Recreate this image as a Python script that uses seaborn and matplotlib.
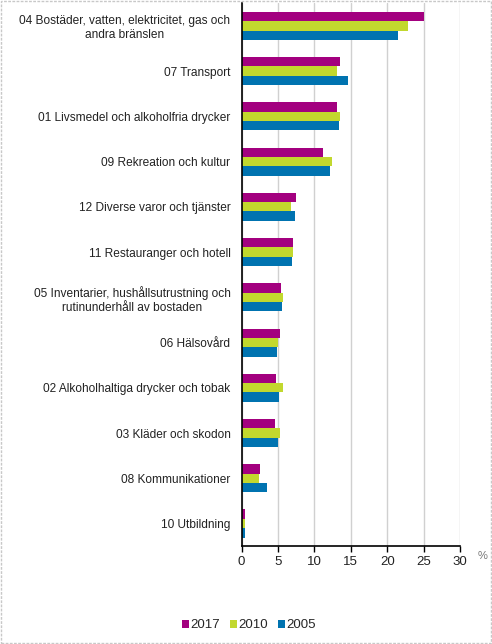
"""
Household consumption shares by expenditure group, 2005, 2010 and 2017.
"""

import pandas as pd
import matplotlib.pyplot as plt
import seaborn as sns
from matplotlib.patches import Rectangle

categories = [
    "04 Bostäder, vatten, elektricitet, gas och\nandra bränslen",
    "07 Transport",
    "01 Livsmedel och alkoholfria drycker",
    "09 Rekreation och kultur",
    "12 Diverse varor och tjänster",
    "11 Restauranger och hotell",
    "05 Inventarier, hushållsutrustning och\nrutinunderhåll av bostaden",
    "06 Hälsovård",
    "02 Alkoholhaltiga drycker och tobak",
    "03 Kläder och skodon",
    "08 Kommunikationer",
    "10 Utbildning",
]

years = ["2017", "2010", "2005"]

share_2017 = [25.0, 13.5, 13.1, 11.2, 7.5, 7.1, 5.4, 5.3, 4.7, 4.6, 2.5, 0.5]
share_2010 = [22.9, 13.1, 13.5, 12.4, 6.8, 7.0, 5.7, 5.0, 5.7, 5.3, 2.4, 0.5]
share_2005 = [21.5, 14.6, 13.4, 12.1, 7.3, 6.9, 5.5, 4.8, 5.1, 5.0, 3.5, 0.5]

x_ticks = [0, 5, 10, 15, 20, 25, 30]

colors = ["#a3007f", "#c2d82e", "#0073b0"]


def build_frame():
    """
    Long-form table for seaborn.
    """
    rows = []
    for year, values in zip(years, [share_2017, share_2010, share_2005]):
        for cat, val in zip(categories, values):
            rows.append({"category": cat, "year": year, "share": val})
    return pd.DataFrame(rows)


def bar_chart(df):
    """
    Grouped horizontal bar chart.
    """
    sns.set_style("white")
    plt.rcParams["font.family"] = ["Liberation Sans", "DejaVu Sans"]

    fig = plt.figure(figsize=(4.92, 6.44), dpi=100)
    ax = fig.add_axes([0.491, 0.152, 0.444, 0.843])

    sns.barplot(
        data=df,
        x="share",
        y="category",
        hue="year",
        hue_order=years,
        order=categories,
        palette=colors,
        orient="h",
        width=0.62,
        saturation=1,
        linewidth=0,
        ax=ax,
    )

    ax.set_xlim(0, 30)
    ax.set_xticks(x_ticks)
    ax.set_xticklabels([str(t) for t in x_ticks], fontsize=9.5, color="#222222")
    ax.set_ylim(11.5, -0.5)
    ax.set_xlabel("")
    ax.set_ylabel("")

    for label in ax.get_yticklabels():
        label.set_multialignment("center")
        label.set_fontsize(8.6)
        label.set_color("#222222")

    ax.tick_params(axis="y", length=0, pad=8)
    ax.tick_params(axis="x", length=4, width=1, color="black", pad=3,
                   direction="out", bottom=True)

    ax.grid(axis="x", color="#d0d0d0", linewidth=1)
    ax.set_axisbelow(True)

    for side in ["top", "right"]:
        ax.spines[side].set_visible(False)
    for side in ["left", "bottom"]:
        ax.spines[side].set_color("black")
        ax.spines[side].set_linewidth(1.2)

    fig.text(0.98, 0.136, "%", fontsize=8, color="#777777",
             ha="center", va="center")

    handles, labels = ax.get_legend_handles_labels()
    ax.legend_.remove()
    fig.legend(
        handles,
        labels,
        loc="center",
        bbox_to_anchor=(0.506, 0.029),
        ncol=3,
        frameon=False,
        fontsize=9.5,
        handlelength=0.55,
        handleheight=0.55,
        handletextpad=0.1,
        columnspacing=0.75,
    )

    fig.patches.append(Rectangle(
        (0.002, 0.002), 0.996, 0.996,
        transform=fig.transFigure,
        fill=False,
        edgecolor="#c8c8c8",
        linewidth=1,
        linestyle=(0, (2, 1)),
    ))

    fig.savefig("out.png", dpi=100)


if __name__ == "__main__":

    df = build_frame()

    bar_chart(df)
